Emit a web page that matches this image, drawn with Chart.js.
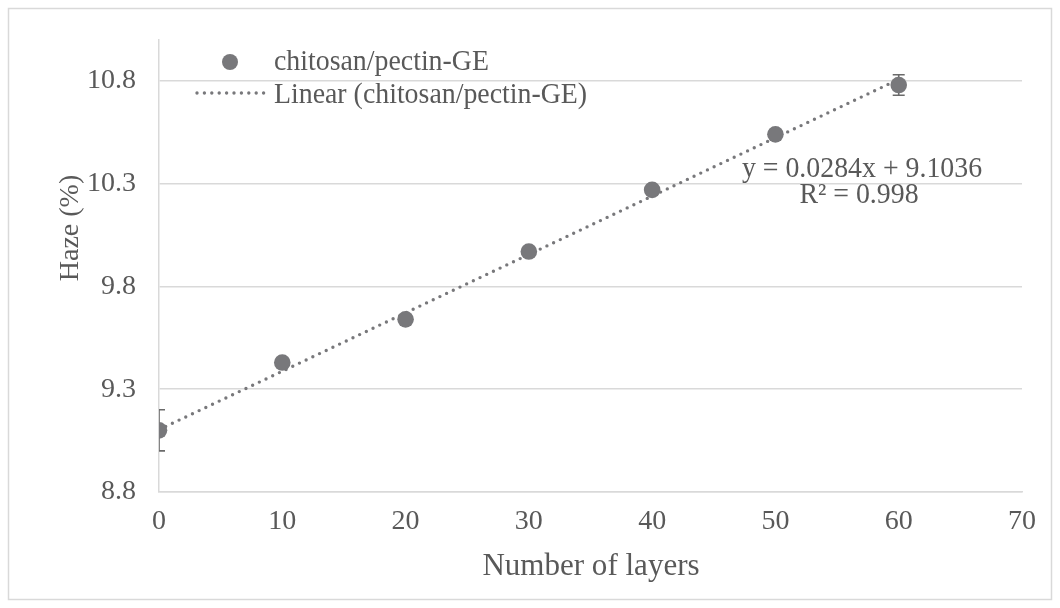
<!DOCTYPE html>
<html>
<head>
<meta charset="utf-8">
<title>Haze vs number of layers</title>
<script src="https://cdn.jsdelivr.net/npm/chart.js@4/dist/chart.umd.min.js"></script>
<style>
  html, body { margin: 0; padding: 0; background: #ffffff; }
  #wrap { width: 1060px; height: 608px; position: relative; }
</style>
</head>
<body>
<div id="wrap"><canvas id="chart" width="1060" height="608"></canvas></div>
<script>
// Measured haze for each layer count
const layers = [0, 10, 20, 30, 40, 50, 60];
const haze = [9.10, 9.43, 9.64, 9.97, 10.27, 10.54, 10.78];
const hazeErr = [0.10, 0.02, 0.02, 0.02, 0.02, 0.02, 0.05];

// Linear fit reported for the series
const fitSlope = 0.0284;
const fitIntercept = 9.1036;
const fitR2 = 0.998;
const fitRange = [0, 60];

// Axis ticks
const yTicks = [8.8, 9.3, 9.8, 10.3, 10.8];
const xTicks = [0, 10, 20, 30, 40, 50, 60, 70];

const seriesName = 'chitosan/pectin-GE';
const fitName = 'Linear (chitosan/pectin-GE)';

const FONT = '"Liberation Serif", "Times New Roman", serif';
const TEXT = '#595959';
const GRID = '#d9d9d9';
const MARK = '#78787b';

// Slightly narrowed text, anchored at (x, y)
function narrowText(ctx, str, x, y, size, squeeze) {
  ctx.save();
  ctx.font = size + 'px ' + FONT;
  ctx.translate(x, y);
  ctx.scale(squeeze, 1);
  ctx.fillText(str, 0, 0);
  ctx.restore();
}

// Error bars, clipped to the plot area
const errorBars = {
  id: 'errorBars',
  beforeDatasetsDraw(chart) {
    const { ctx, chartArea, scales } = chart;
    ctx.save();
    ctx.beginPath();
    ctx.rect(chartArea.left, chartArea.top, chartArea.right - chartArea.left, chartArea.bottom - chartArea.top);
    ctx.clip();
    ctx.strokeStyle = '#6a6a6a';
    ctx.lineWidth = 1.6;
    layers.forEach((lx, i) => {
      const px = scales.x.getPixelForValue(lx);
      const top = scales.y.getPixelForValue(haze[i] + hazeErr[i]);
      const bot = scales.y.getPixelForValue(haze[i] - hazeErr[i]);
      ctx.beginPath();
      ctx.moveTo(px, top); ctx.lineTo(px, bot);
      ctx.moveTo(px - 6, top); ctx.lineTo(px + 6, top);
      ctx.moveTo(px - 6, bot); ctx.lineTo(px + 6, bot);
      ctx.stroke();
    });
    ctx.restore();
  }
};

// Frame, legend, fit equation and axis titles
const decorations = {
  id: 'decorations',
  beforeDraw(chart) {
    const ctx = chart.ctx;
    ctx.save();
    ctx.fillStyle = '#ffffff';
    ctx.fillRect(0, 0, chart.width, chart.height);
    ctx.strokeStyle = GRID;
    ctx.lineWidth = 1.5;
    ctx.strokeRect(8.5, 8.5, 1043, 591);
    ctx.restore();
  },
  afterDraw(chart) {
    const ctx = chart.ctx;
    const ds = chart.data.datasets;
    ctx.save();
    ctx.textBaseline = 'alphabetic';

    // legend
    ctx.fillStyle = MARK;
    ctx.beginPath();
    ctx.arc(230, 62, 8, 0, Math.PI * 2);
    ctx.fill();
    ctx.strokeStyle = MARK;
    ctx.lineWidth = 3.4;
    ctx.lineCap = 'round';
    ctx.setLineDash([0, 7.4]);
    ctx.beginPath();
    ctx.moveTo(197, 93); ctx.lineTo(266, 93);
    ctx.stroke();
    ctx.setLineDash([]);
    ctx.fillStyle = TEXT;
    ctx.textAlign = 'left';
    narrowText(ctx, ds[0].label, 274, 70, 29, 0.96);
    narrowText(ctx, ds[1].label, 274, 103, 29, 0.96);

    // fit equation
    ctx.textAlign = 'center';
    narrowText(ctx, 'y = ' + fitSlope.toFixed(4) + 'x + ' + fitIntercept.toFixed(4), 862, 177, 29, 0.96);
    narrowText(ctx, 'R\u00b2 = ' + fitR2.toFixed(3), 859, 203, 29, 0.96);

    // axis titles
    narrowText(ctx, 'Number of layers', 591, 575, 32, 0.97);
    ctx.translate(78, 228);
    ctx.rotate(-Math.PI / 2);
    narrowText(ctx, 'Haze (%)', 0, 0, 28, 1);
    ctx.restore();
  }
};

new Chart(document.getElementById('chart'), {
  type: 'scatter',
  data: {
    datasets: [
      {
        label: seriesName,
        data: layers.map((x, i) => ({ x, y: haze[i] })),
        backgroundColor: MARK,
        borderColor: MARK,
        pointRadius: 8.3,
        pointHoverRadius: 8.3,
        borderWidth: 0,
        order: 1
      },
      {
        type: 'line',
        label: fitName,
        data: fitRange.map(x => ({ x, y: fitIntercept + fitSlope * x })),
        borderColor: MARK,
        borderWidth: 3.4,
        borderDash: [0, 7.4],
        borderCapStyle: 'round',
        pointRadius: 0,
        fill: false,
        order: 2
      }
    ]
  },
  options: {
    responsive: false,
    devicePixelRatio: 1,
    animation: false,
    events: [],
    layout: { padding: { left: 0, top: 39, right: 38, bottom: 0 } },
    plugins: {
      legend: { display: false },
      tooltip: { enabled: false }
    },
    scales: {
      x: {
        type: 'linear',
        min: 0,
        max: 70,
        afterBuildTicks(scale) { scale.ticks = xTicks.map(v => ({ value: v })); },
        afterFit(scale) { scale.height = 116; },
        grid: { display: false, drawTicks: false },
        border: { display: true, color: GRID, width: 1.5 },
        ticks: {
          color: TEXT,
          font: { family: FONT, size: 28 },
          padding: 13,
          maxRotation: 0
        }
      },
      y: {
        type: 'linear',
        min: 8.8,
        max: 11.0,
        afterBuildTicks(scale) { scale.ticks = yTicks.map(v => ({ value: v })); },
        afterFit(scale) { scale.width = 159; },
        grid: { color: GRID, lineWidth: 1.5, drawTicks: false },
        border: { display: true, color: GRID, width: 1.5 },
        ticks: {
          color: TEXT,
          font: { family: FONT, size: 28 },
          padding: 23,
          callback: v => v.toFixed(1)
        }
      }
    }
  },
  plugins: [errorBars, decorations]
});
</script>
</body>
</html>
